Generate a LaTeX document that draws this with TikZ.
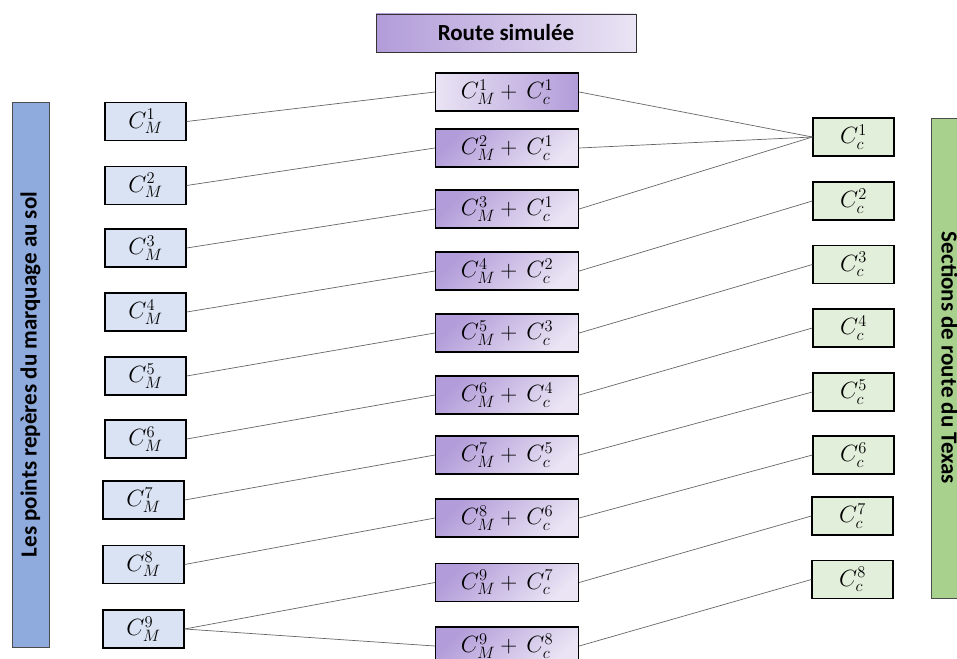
\RequirePackage{fix-cm}
\documentclass[tikz,border=0pt]{standalone}
\usepackage{fontspec}
\setmainfont{Carlito}

\definecolor{bleuM}{HTML}{DAE3F3}
\definecolor{bleuBarre}{HTML}{8FAADC}
\definecolor{vertC}{HTML}{E2EFDA}
\definecolor{vertBarre}{HTML}{A9D18E}
\definecolor{violetF}{HTML}{B29CD9}
\definecolor{violetC}{HTML}{EAE4F4}

\tikzset{
  boite/.style={draw=black, line width=1.3pt, minimum height=38pt, inner sep=0pt,
    font=\fontsize{23.5}{28}\selectfont},
  marq/.style={boite, fill=bleuM, minimum width=81pt},
  sect/.style={boite, fill=vertC, minimum width=81pt},
  sim/.style={boite, minimum width=143pt, top color=violetF, bottom color=violetC, shading angle=45},
  barre/.style={draw=black!70, line width=0.8pt, inner sep=0pt,
    font=\bfseries\fontsize{23}{27}\selectfont},
  lien/.style={draw=black!60, line width=0.7pt},
}

\begin{document}
\begin{tikzpicture}[x=1pt, y=-1pt]
    \useasboundingbox (0,0) rectangle (957,658);

    % Barres laterales
    \node[barre, fill=bleuBarre, rotate=90, minimum width=545pt, minimum height=37pt]
        (barreM) at (30.5,374.5) {Les points repères du marquage au sol};
    \node[barre, fill=vertBarre, rotate=-90, minimum width=480pt, minimum height=37pt]
        (barreC) at (949.5,358) {Sections de route du Texas};

    % Titre
    \node[barre, draw=black!80, left color=violetF, right color=violetC,
        minimum width=260pt, minimum height=38pt] (titre) at (506,33) {Route simulée};

    % Points du marquage
    \foreach \i/\x/\y in {1/145.5/121.5, 2/145.5/185.5, 3/145.5/248, 4/145.5/312,
        5/145.5/376, 6/145.5/439, 7/143.5/500, 8/143.5/564.5, 9/143.5/629}{
        \node[marq] (m\i) at (\x,\y) {$C_M^{\i}$};
    }

    % Route simulee
    \node[sim, left color=violetC, right color=violetF]
        (s1) at (507,92) {$C_M^{1} +\, C_c^{1}$};
    \foreach \i/\y/\a/\b in {2/148/2/1, 3/209/3/1, 4/271/4/2, 5/333/5/3, 6/395/6/4,
        7/455/7/5, 8/518/8/6, 9/582.5/9/7, 10/646/9/8}{
        \node[sim] (s\i) at (507,\y) {$C_M^{\a} +\, C_c^{\b}$};
    }

    % Sections de route
    \foreach \i/\x/\y in {1/853.5/137, 2/853.5/201, 3/853.5/264.5, 4/853.5/328,
        5/853.5/392, 6/853.5/455, 7/852.5/516, 8/852.5/579.5}{
        \node[sect] (c\i) at (\x,\y) {$C_c^{\i}$};
    }

    % Liens
    \foreach \i in {1,...,9}{
        \draw[lien] (m\i.east) -- (s\i.west);
    }
    \draw[lien] (m9.east) -- (s10.west);
    \foreach \i in {1,2,3}{
        \draw[lien] (s\i.east) -- (c1.west);
    }
    \foreach \i [evaluate=\i as \j using int(\i-2)] in {4,...,10}{
        \draw[lien] (s\i.east) -- (c\j.west);
    }
\end{tikzpicture}
\end{document}
